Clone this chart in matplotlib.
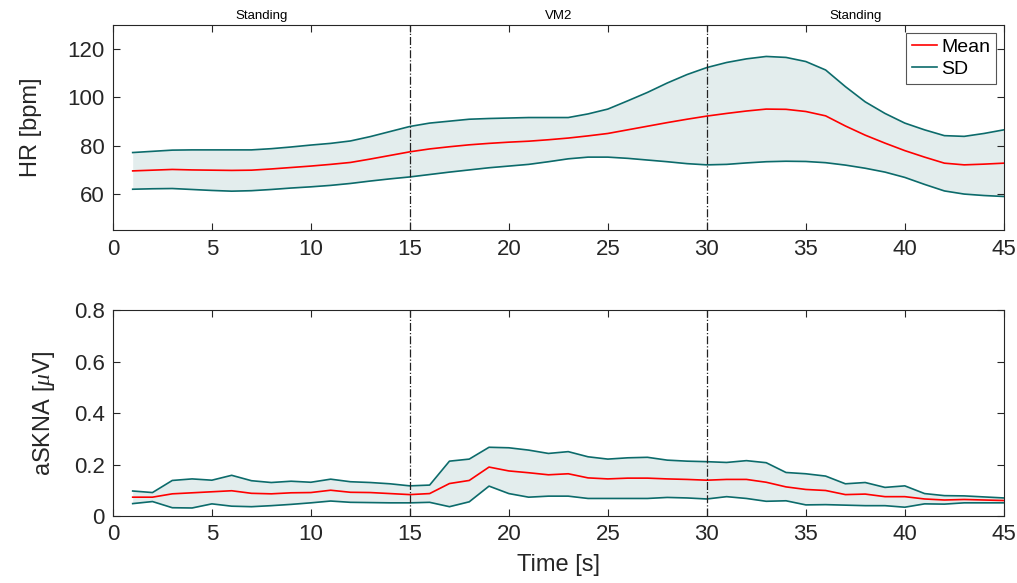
import matplotlib
matplotlib.use("Agg")
import matplotlib.pyplot as plt
import numpy as np

plt.rcParams['font.family'] = ['Liberation Sans', 'DejaVu Sans']
plt.rcParams['mathtext.fontset'] = 'custom'
plt.rcParams['mathtext.it'] = 'Liberation Serif:italic'

time_s = list(range(1, 46))

hr_mean = [69.6, 69.9, 70.2, 70.0, 69.9, 69.8, 69.9, 70.4, 71.0, 71.6,
           72.3, 73.1, 74.5, 76.0, 77.5, 78.7, 79.6, 80.4, 81.0, 81.5,
           81.9, 82.5, 83.2, 84.1, 85.1, 86.6, 88.1, 89.6, 91.0, 92.3,
           93.4, 94.4, 95.2, 95.1, 94.2, 92.4, 88.2, 84.4, 81.1, 78.0,
           75.3, 72.8, 72.1, 72.4, 72.8]
hr_upper = [77.2, 77.7, 78.2, 78.3, 78.3, 78.3, 78.3, 78.8, 79.5, 80.3,
            81.0, 82.0, 83.8, 85.9, 88.0, 89.4, 90.2, 91.0, 91.3, 91.5,
            91.7, 91.7, 91.7, 93.2, 95.2, 98.6, 102.1, 106.0, 109.5, 112.4,
            114.5, 116.0, 117.0, 116.6, 114.9, 111.4, 104.5, 98.2, 93.4, 89.4,
            86.6, 84.2, 83.9, 85.1, 86.6]
hr_lower = [62.0, 62.2, 62.3, 61.9, 61.5, 61.2, 61.4, 61.9, 62.5, 63.0,
            63.6, 64.4, 65.4, 66.3, 67.1, 68.1, 69.1, 70.0, 70.9, 71.6,
            72.3, 73.4, 74.6, 75.3, 75.3, 74.8, 74.1, 73.4, 72.6, 72.1,
            72.3, 72.9, 73.4, 73.6, 73.5, 73.0, 72.0, 70.7, 69.1, 66.9,
            64.0, 61.3, 60.0, 59.4, 59.0]

skna_mean = [0.073, 0.073, 0.086, 0.090, 0.094, 0.098, 0.088, 0.086, 0.090, 0.091,
             0.100, 0.092, 0.091, 0.087, 0.083, 0.087, 0.126, 0.138, 0.190, 0.175,
             0.168, 0.160, 0.164, 0.148, 0.144, 0.147, 0.147, 0.144, 0.142, 0.139,
             0.142, 0.142, 0.131, 0.113, 0.103, 0.099, 0.083, 0.085, 0.075, 0.075,
             0.066, 0.062, 0.064, 0.062, 0.060]
skna_upper = [0.097, 0.091, 0.138, 0.144, 0.139, 0.158, 0.137, 0.130, 0.135, 0.131,
              0.143, 0.133, 0.130, 0.125, 0.117, 0.120, 0.213, 0.221, 0.267, 0.265,
              0.256, 0.243, 0.250, 0.230, 0.221, 0.226, 0.228, 0.217, 0.213, 0.211,
              0.208, 0.215, 0.207, 0.169, 0.164, 0.155, 0.125, 0.130, 0.111, 0.117,
              0.087, 0.079, 0.078, 0.074, 0.070]
skna_lower = [0.048, 0.056, 0.032, 0.031, 0.047, 0.038, 0.036, 0.040, 0.045, 0.051,
              0.058, 0.053, 0.052, 0.051, 0.051, 0.053, 0.036, 0.055, 0.116, 0.087,
              0.073, 0.077, 0.077, 0.068, 0.068, 0.068, 0.068, 0.072, 0.070, 0.066,
              0.075, 0.068, 0.057, 0.059, 0.043, 0.044, 0.042, 0.040, 0.040, 0.034,
              0.047, 0.046, 0.051, 0.051, 0.051]

phase_labels = ['Standing', 'VM2', 'Standing']
phase_bounds = [0, 15, 30, 45]

x_ticks = [0, 5, 10, 15, 20, 25, 30, 35, 40, 45]
hr_ticks = [60, 80, 100, 120]
skna_ticks = [0, 0.2, 0.4, 0.6, 0.8]

RED = '#ff0000'
TEAL = '#0c6b6b'
FILL = '#e3eded'
AXC = '#262626'

fig = plt.figure(figsize=(10.17, 5.83), dpi=100)
ax1 = fig.add_axes([0.111, 0.605, 0.876, 0.352])
ax2 = fig.add_axes([0.111, 0.115, 0.876, 0.353])

def style(ax):
    ax.set_xlim(0, 45)
    ax.set_xticks(x_ticks)
    ax.tick_params(direction='in', length=5, width=0.8, top=True, right=True,
                   labelsize=16, colors=AXC, pad=6)
    for s in ax.spines.values():
        s.set_color(AXC)
        s.set_linewidth(0.8)
    for b in phase_bounds[1:-1]:
        ax.axvline(b, color='#222222', lw=0.9, ls='-.', zorder=4)

# Top
ax1.fill_between(time_s, hr_lower, hr_upper, color=FILL, lw=0, zorder=1)
l_mean, = ax1.plot(time_s, hr_mean, color=RED, lw=1.2, zorder=3, label='Mean')
l_sd, = ax1.plot(time_s, hr_upper, color=TEAL, lw=1.2, zorder=3, label='SD')
ax1.plot(time_s, hr_lower, color=TEAL, lw=1.2, zorder=3)
style(ax1)
ax1.set_ylim(45, 130)
ax1.set_yticks(hr_ticks)
ax1.set_ylabel('HR [bpm]', fontsize=17, color=AXC, labelpad=18)
for i, lab in enumerate(phase_labels):
    xm = (phase_bounds[i] + phase_bounds[i + 1]) / 2
    ax1.text(xm, 1.015, lab, transform=ax1.get_xaxis_transform(),
             ha='center', va='bottom', fontsize=9.5, color='black')
leg = ax1.legend(handles=[l_mean, l_sd], loc='upper right', fontsize=14,
                 handlelength=1.3, handletextpad=0.2, borderpad=0.3,
                 labelspacing=0.2, borderaxespad=0.4, fancybox=False,
                 framealpha=1, edgecolor='#555555')
leg.get_frame().set_linewidth(0.8)

# Bottom
ax2.fill_between(time_s, skna_lower, skna_upper, color=FILL, lw=0, zorder=1)
ax2.plot(time_s, skna_mean, color=RED, lw=1.2, zorder=3)
ax2.plot(time_s, skna_upper, color=TEAL, lw=1.2, zorder=3)
ax2.plot(time_s, skna_lower, color=TEAL, lw=1.2, zorder=3)
style(ax2)
ax2.set_ylim(0, 0.8)
ax2.set_yticks(skna_ticks)
ax2.set_yticklabels(['0', '0.2', '0.4', '0.6', '0.8'])
ax2.set_ylabel(r'aSKNA [$\mu$V]', fontsize=17, color=AXC, labelpad=12)
ax2.set_xlabel('Time [s]', fontsize=17, color=AXC, labelpad=6)

fig.savefig('out.png', dpi=100)
